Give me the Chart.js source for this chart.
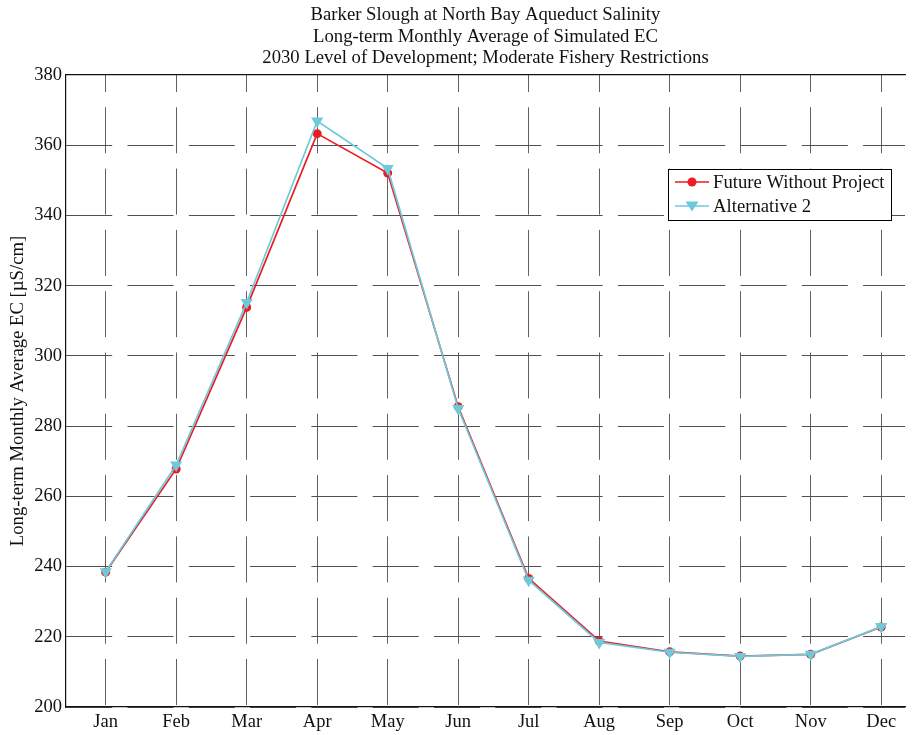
<!DOCTYPE html>
<html>
<head>
<meta charset="utf-8">
<script src="https://cdn.jsdelivr.net/npm/chart.js@4.4.1/dist/chart.umd.min.js"></script>
<style>
  html, body { margin: 0; padding: 0; background: #fff; }
  #wrap { width: 912px; height: 735px; position: relative; }
</style>
</head>
<body>
<div id="wrap"><canvas id="c" width="912" height="735"></canvas></div>
<script>
const titleLines = [
  "Barker Slough at North Bay Aqueduct Salinity",
  "Long-term Monthly Average of Simulated EC",
  "2030 Level of Development; Moderate Fishery Restrictions"
];
const yAxisTitle = "Long-term Monthly Average EC [\u00b5S/cm]";
const months = ["Jan","Feb","Mar","Apr","May","Jun","Jul","Aug","Sep","Oct","Nov","Dec"];
const futureWithoutProject = [238.4, 267.8, 313.8, 363.3, 352.1, 285.5, 236.6, 218.8, 215.7, 214.5, 215.0, 222.8];
const alternative2 = [238.5, 268.9, 315.2, 366.9, 353.4, 285.0, 236.1, 218.4, 215.6, 214.4, 215.0, 222.9];
const yTicks = [200, 220, 240, 260, 280, 300, 320, 340, 360, 380];
const seriesNames = ["Future Without Project", "Alternative 2"];

const FONT = "'Liberation Serif', 'Times New Roman', serif";
const RED = "#ec1c24";
const CYAN = "#6ccadb";
const GRID = "#505050";

const toXY = arr => arr.map((v, i) => ({ x: i + 1, y: v }));

const legendPlugin = {
  id: 'boxLegend',
  afterDraw(chart) {
    const ctx = chart.ctx;
    const x = 668, y = 169, w = 223, h = 51;
    ctx.save();
    ctx.fillStyle = '#fff';
    ctx.fillRect(x, y, w, h);
    ctx.strokeStyle = '#000';
    ctx.lineWidth = 1;
    ctx.strokeRect(x + 0.5, y + 0.5, w, h);
    ctx.font = "18.7px " + FONT;
    ctx.textBaseline = 'middle';
    ctx.textAlign = 'left';
    const rows = [
      { name: seriesNames[0], color: RED, cy: 182, marker: 'circle' },
      { name: seriesNames[1], color: CYAN, cy: 206, marker: 'tri' }
    ];
    rows.forEach(r => {
      ctx.strokeStyle = r.color;
      ctx.lineWidth = 1.6;
      ctx.beginPath();
      ctx.moveTo(675, r.cy);
      ctx.lineTo(709, r.cy);
      ctx.stroke();
      ctx.fillStyle = r.color;
      ctx.beginPath();
      if (r.marker === 'circle') {
        ctx.arc(692, r.cy, 4.5, 0, Math.PI * 2);
      } else {
        ctx.moveTo(685.5, r.cy - 4.5);
        ctx.lineTo(698.5, r.cy - 4.5);
        ctx.lineTo(692, r.cy + 5.5);
        ctx.closePath();
      }
      ctx.fill();
      ctx.fillStyle = '#111';
      ctx.fillText(r.name, 713, r.cy + 1);
    });
    ctx.restore();
  }
};

new Chart(document.getElementById('c'), {
  type: 'line',
  data: {
    datasets: [
      {
        label: seriesNames[0],
        data: toXY(futureWithoutProject),
        borderColor: RED,
        backgroundColor: RED,
        borderWidth: 1.7,
        pointStyle: 'circle',
        pointRadius: 4.5,
        pointBorderWidth: 0,
        tension: 0,
        order: 2
      },
      {
        label: seriesNames[1],
        data: toXY(alternative2),
        borderColor: CYAN,
        backgroundColor: CYAN,
        borderWidth: 1.7,
        pointStyle: 'triangle',
        pointRotation: 180,
        pointRadius: 7,
        pointBorderWidth: 0,
        tension: 0,
        order: 1
      }
    ]
  },
  options: {
    responsive: false,
    animation: false,
    devicePixelRatio: 1,
    layout: { padding: { left: 0, right: 0, top: 0, bottom: 0 } },
    plugins: {
      legend: { display: false },
      tooltip: { enabled: false },
      title: {
        display: true,
        fullSize: false,
        text: titleLines,
        color: '#111',
        font: { family: FONT, size: 18.7, weight: 'normal', lineHeight: 1.13 },
        padding: { top: 5, bottom: 6.6 }
      }
    },
    scales: {
      x: {
        type: 'linear',
        min: 0.4373,
        max: 12.3376,
        afterBuildTicks(scale) {
          scale.ticks = months.map((m, i) => ({ value: i + 1 }));
        },
        afterFit(scale) { scale.height = 28; },
        ticks: {
          autoSkip: false,
          maxRotation: 0,
          padding: 4,
          color: '#111',
          font: { family: FONT, size: 18.5 },
          callback: (v) => months[Math.round(v) - 1] || ''
        },
        grid: {
          color: '#606060',
          lineWidth: 1,
          drawTicks: false
        },
        border: { display: true, color: '#111', width: 1.2, dash: [46, 15.3], dashOffset: 29 }
      },
      xTop: {
        type: 'linear',
        position: 'top',
        min: 0.4373,
        max: 12.3376,
        afterFit(scale) { scale.height = 0; },
        ticks: { display: false },
        grid: { display: false, drawTicks: false },
        border: { display: true, color: '#111', width: 1.2 }
      },
      y: {
        min: 200,
        max: 380,
        afterBuildTicks(scale) {
          scale.ticks = yTicks.map(v => ({ value: v }));
        },
        afterFit(scale) { scale.width = 66; },
        title: {
          display: true,
          text: yAxisTitle,
          color: '#111',
          font: { family: FONT, size: 18.7, lineHeight: 1.15 },
          padding: { top: 7, bottom: 0 }
        },
        ticks: {
          padding: 4,
          color: '#111',
          font: { family: FONT, size: 18.5 }
        },
        grid: {
          color: GRID,
          lineWidth: 1,
          drawTicks: false
        },
        border: { display: true, color: '#111', width: 1.2, dash: [46, 15.3], dashOffset: 0 }
      }
    }
  },
  plugins: [legendPlugin]
});
</script>
</body>
</html>
